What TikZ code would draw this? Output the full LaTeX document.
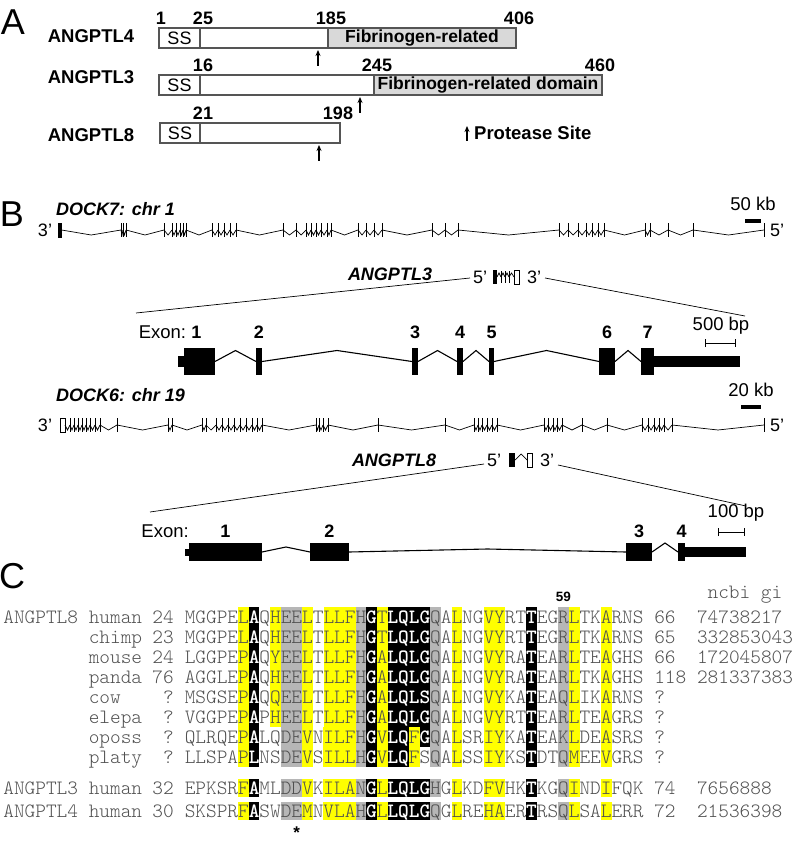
\documentclass[tikz,border=0pt]{standalone}
\usepackage{fontspec}
\setmainfont{Liberation Sans}
\usetikzlibrary{arrows.meta, positioning, calc}

\definecolor{alnyellow}{HTML}{FFFF00}
\definecolor{alngray}{HTML}{B6B6B6}
\definecolor{domgray}{HTML}{D9D9D9}
\definecolor{boxline}{HTML}{555555}
\definecolor{alntext}{HTML}{505050}

% alignment cells
\newlength\chw \setlength\chw{10.67pt}
\newlength\hlht \newlength\hldp
\newcommand\alnfont{\fontfamily{lmtt}\fontseries{l}\fontsize{20.32}{22}\selectfont}
\newcommand\hlc[2]{\makebox[\chw][l]{\rlap{\textcolor{#1}{\rule[-\hldp]{\chw}{\hlht}}}\makebox[\chw][c]{#2}}}
\newcommand\yl[1]{\hlc{alnyellow}{#1}}
\newcommand\gr[1]{\hlc{alngray}{#1}}
\newcommand\bk[1]{\hlc{black}{\textcolor{white}{\bfseries #1}}}

\begin{document}
\begin{tikzpicture}[x=1pt, y=-1pt,
    plbl/.style={font=\fontsize{36}{40}\selectfont, inner sep=0pt},
    gname/.style={font=\fontsize{18.5}{20}\selectfont\bfseries, inner sep=0pt},
    num/.style={font=\fontsize{18}{20}\selectfont\bfseries, inner sep=0pt},
    seg/.style={draw=boxline, line width=1.1pt, minimum height=20pt, inner sep=0pt, outer sep=0pt, font=\fontsize{18}{20}\selectfont},
    dom/.style={seg, fill=domgray, font=\fontsize{17.5}{20}\selectfont\bfseries},
    parrow/.style={line width=1.3pt, -{Stealth[length=6pt, width=5pt]}, shorten >=2pt},
    glbl/.style={font=\fontsize{18}{20}\selectfont\bfseries\itshape, inner sep=0pt},
    sclbl/.style={font=\fontsize{18.5}{20}\selectfont, inner sep=0pt},
    primelbl/.style={font=\fontsize{18}{20}\selectfont, inner sep=0pt},
    sbar/.style={fill, inner sep=0pt, minimum height=4pt},
    scbar/.style={line width=1pt, {Bar[width=8pt]}-{Bar[width=8pt]}},
    dockline/.style={line width=0.7pt},
    extick/.style={line width=0.6pt},
    intron/.style={line width=1.1pt},
    exon/.style={fill, inner sep=0pt, outer sep=0pt, minimum height=27pt},
    exon8/.style={fill, inner sep=0pt, outer sep=0pt, minimum height=18pt},
    utr/.style={fill, inner sep=0pt, outer sep=0pt, minimum height=11pt},
    zline/.style={line width=0.7pt},
    alntxt/.style={font=\alnfont, text=alntext, inner sep=0pt, anchor=base west},
    alnnum/.style={alntxt, anchor=base east}
]
\useasboundingbox (0,0) rectangle (793,842);

% ---------------- A: domain maps
\node[plbl] (pa) at (13,22) {A};

\node[gname] (g4) at (91,36) {ANGPTL4};
\node[seg, anchor=north west, minimum width=41pt] (g4ss) at (159,28) {SS};
\node[seg, minimum width=128pt, right=0pt of g4ss] (g4mid) {};
\node[dom, minimum width=188pt, right=0pt of g4mid] (g4fib) {Fibrinogen-related};
\node[num, above=3pt of g4ss.north west, xshift=2pt] (n4a) {1};
\node[num, above=3pt of g4ss.north east, xshift=3pt] (n4b) {25};
\node[num, above=3pt of g4mid.north east, xshift=3pt] (n4c) {185};
\node[num, above=3pt of g4fib.north east, xshift=3pt] (n4d) {406};

\node[gname] (g3) at (91,77) {ANGPTL3};
\node[seg, anchor=north west, minimum width=41pt] (g3ss) at (159,75) {SS};
\node[seg, minimum width=174pt, right=0pt of g3ss] (g3mid) {};
\node[dom, minimum width=228pt, right=0pt of g3mid] (g3fib) {Fibrinogen-related domain};
\node[num, above=3pt of g3ss.north east, xshift=3pt] (n3a) {16};
\node[num, above=3pt of g3mid.north east, xshift=3pt] (n3b) {245};
\node[num, above=3pt of g3fib.north east, xshift=-2pt] (n3c) {460};

\node[gname] (g8) at (91,135) {ANGPTL8};
\node[seg, anchor=north west, minimum width=40pt] (g8ss) at (160,123) {SS};
\node[seg, minimum width=140pt, right=0pt of g8ss] (g8mid) {};
\node[num, above=3pt of g8ss.north east, xshift=3pt] (n8a) {21};
\node[num, above=3pt of g8mid.north east, xshift=-2pt] (n8b) {198};

% protease sites
\coordinate (pr4) at (318,66);
\coordinate (pr3) at (360,113);
\coordinate (pr8) at (319,161);
\draw[parrow] (pr4) -- (pr4 |- g4mid.south);
\draw[parrow] (pr3) -- (pr3 |- g3mid.south);
\draw[parrow] (pr8) -- (pr8 |- g8mid.south);
\node[gname, anchor=west] (ptxt) at (474,133) {Protease Site};
\coordinate (prl) at (467,141);
\draw[parrow, shorten >=0pt] (prl) -- (prl |- ptxt.north);

% ---------------- B: gene structures
\node[plbl] (pb) at (12,214) {B};

% DOCK7
\node[glbl, anchor=west] (d7) at (56,209) {DOCK7: chr 1};
\node[sclbl] (s50) at (753,204) {50 kb};
\node[sbar, minimum width=16pt, below=7.5pt of s50] (b50) {};
\node[primelbl] (d7l) at (45,230) {3’};
\node[primelbl] (d7r) at (777,230) {5’};
\draw[dockline, fill] (58,223) rectangle (61.5,237);
\foreach \x [remember=\x as \px (initially 61.5)] in
    {121,123,126,164,172,176,180,183,186,212,218,224,230,236,283,296,306,311,316,321,327,331,
     358,366,374,382,432,445,458,559,568,578,586,592,598,604,645,650,668,693,764} {
  \draw[dockline] (\px,230) -- ({(\px+\x)/2},235) -- (\x,230);
  \draw[extick] (\x,223) -- (\x,237);
}

% ANGPTL3 inside DOCK7
\node[glbl] (m3) at (390,274) {ANGPTL3};
\node[primelbl] (m3l) at (480,277) {5’};
\node[primelbl] (m3r) at (534,277) {3’};
\fill (493,270) rectangle (497,284);
\foreach \x [remember=\x as \px (initially 497)] in {501,505,509,514} {
  \draw[dockline] (\px,277) -- ({(\px+\x)/2},273) -- (\x,277);
  \draw[extick] (\x,271) -- (\x,283);
}
\draw[dockline] (514,270) rectangle (519,284);
\coordinate (z3a) at (470,278);
\coordinate (z3b) at (545,278);
\coordinate (z3c) at (136,313);
\coordinate (z3d) at (745,316);
\draw[zline] (z3a) -- (z3c);
\draw[zline] (z3b) -- (z3d);

% ANGPTL3 exons
\node[exon, minimum width=31pt] (a1) at (199.5,361.5) {};
\node[exon, minimum width=6pt] (a2) at (259,361.5) {};
\node[exon, minimum width=6pt] (a3) at (415,361.5) {};
\node[exon, minimum width=6pt] (a4) at (460,361.5) {};
\node[exon, minimum width=5pt] (a5) at (491.5,361.5) {};
\node[exon, minimum width=16pt] (a6) at (607,361.5) {};
\node[exon, minimum width=13pt] (a7) at (647.5,361.5) {};
\node[utr, minimum width=6pt, left=0pt of a1] (a0) {};
\node[utr, minimum width=86pt, right=0pt of a7] (a8) {};
\foreach \p/\q in {a1/a2,a2/a3,a3/a4,a4/a5,a5/a6,a6/a7}
  \draw[intron] (\p.east) -- ($(\p.east)!.5!(\q.west)+(0,-11)$) -- (\q.west);
\node[num, above=9pt of a1, xshift=-3pt] (t1) {1};
\node[num, above=9pt of a2] (t2) {2};
\node[num, above=9pt of a3] (t3) {3};
\node[num, above=9pt of a4] (t4) {4};
\node[num, above=9pt of a5] (t5) {5};
\node[num, above=9pt of a6] (t6) {6};
\node[num, above=9pt of a7] (t7) {7};
\node[sclbl, left=5pt of t1] (ex3) {Exon:};
\node[sclbl] (s500) at (721,326) {500 bp};
\coordinate (b5a) at (705,343);
\coordinate (b5b) at (736,343);
\draw[scbar] (b5a) -- (b5b);

% DOCK6
\node[glbl, anchor=west] (d6) at (56,395) {DOCK6: chr 19};
\node[sclbl] (s20) at (751,390) {20 kb};
\node[sbar, minimum width=20pt, below=7.5pt of s20] (b20) {};
\node[primelbl] (d6l) at (45,425) {3’};
\node[primelbl] (d6r) at (777,425) {5’};
\draw[dockline] (60,418) rectangle (65,432);
\foreach \x [remember=\x as \px (initially 65)] in
    {70,74,78,82,86,90,95,100,117,168,172,202,206,216,222,228,234,240,246,252,257,262,
     316,319,323,328,378,445,474,478,482,487,492,497,544,548,553,557,562,582,607,
     642,648,654,659,664,672,764} {
  \draw[dockline] (\px,425) -- ({(\px+\x)/2},430) -- (\x,425);
  \draw[extick] (\x,418) -- (\x,432);
}

% ANGPTL8 inside DOCK6
\node[glbl] (m8) at (394,460) {ANGPTL8};
\node[primelbl] (m8l) at (494,460) {5’};
\node[primelbl] (m8r) at (547,460) {3’};
\fill (509,453) rectangle (515,467);
\draw[dockline] (515,460) -- (521,454) -- (527,460);
\draw[dockline] (527,453) rectangle (532,467);
\coordinate (z8a) at (484,464);
\coordinate (z8b) at (558,465);
\coordinate (z8c) at (150,512);
\coordinate (z8d) at (746,506);
\draw[zline] (z8a) -- (z8c);
\draw[zline] (z8b) -- (z8d);

% ANGPTL8 exons
\node[exon8, minimum width=73pt] (c1) at (225.5,552) {};
\node[exon8, minimum width=39pt] (c2) at (329.5,552) {};
\node[exon8, minimum width=26pt] (c3) at (639,552) {};
\node[exon8, minimum width=7pt] (c4) at (681.5,552) {};
\node[utr, minimum height=7pt, minimum width=4pt, left=0pt of c1] (c0) {};
\node[utr, minimum height=10pt, minimum width=61pt, right=0pt of c4] (c5) {};
\draw[intron] (c1.east) -- ($(c1.east)!.5!(c2.west)+(0,-5)$) -- (c2.west);
\draw[intron] (c2.east) -- ($(c2.east)!.5!(c3.west)+(0,-3)$) -- (c3.west);
\draw[intron] (c3.east) -- ($(c3.east)!.5!(c4.west)+(0,-9)$) -- (c4.west);
\node[num, above=5.5pt of c1] (u1) {1};
\node[num, above=5.5pt of c2] (u2) {2};
\node[num, above=5.5pt of c3] (u3) {3};
\node[num, above=5.5pt of c4] (u4) {4};
\node[sclbl, anchor=east] (ex8) at (189,531) {Exon:};
\node[sclbl] (s100) at (736,513) {100 bp};
\coordinate (b1a) at (718,532);
\coordinate (b1b) at (745,532);
\draw[scbar] (b1a) -- (b1b);

% ---------------- C: alignment
\node[plbl] (pc) at (12,576) {C};
\node[font=\fontsize{13.5}{14}\selectfont\bfseries, inner sep=0pt] (r59) at (563.4,597) {59};
\node[alntxt] (ncbi) at (707.4,598) {ncbi gi};

\setlength\hlht{20pt}\setlength\hldp{3.8pt}
\node[alntxt] (p8) at (3.2,623.2) {ANGPTL8};
\foreach \spc/\stn/\sqn/\enn/\gin [count=\rw from 0] in {
  human/24/{MGGPE\yl{L}\bk{A}Q\yl{H}\gr{E}\gr{E}\yl{L}T\yl{L}\yl{L}\yl{F}\gr{H}\bk{G}\yl{T}\bk{L}\bk{Q}\bk{L}\bk{G}\gr{Q}A\yl{L}NG\yl{V}\yl{Y}RT\bk{T}EG\gr{R}\yl{L}TK\yl{A}RNS}/66/74738217,
  chimp/23/{MGGPE\yl{L}\bk{A}Q\yl{H}\gr{E}\gr{E}\yl{L}T\yl{L}\yl{L}\yl{F}\gr{H}\bk{G}\yl{T}\bk{L}\bk{Q}\bk{L}\bk{G}\gr{Q}A\yl{L}NG\yl{V}\yl{Y}RT\bk{T}EG\gr{R}\yl{L}TK\yl{A}RNS}/65/332853043,
  mouse/24/{LGGPE\yl{P}\bk{A}Q\yl{Y}\gr{E}\gr{E}\yl{L}T\yl{L}\yl{L}\yl{F}\gr{H}\bk{G}\yl{A}\bk{L}\bk{Q}\bk{L}\bk{G}\gr{Q}A\yl{L}NG\yl{V}\yl{Y}RA\bk{T}EA\gr{R}\yl{L}TE\yl{A}GHS}/66/172045807,
  panda/76/{AGGLE\yl{P}\bk{A}Q\yl{H}\gr{E}\gr{E}\yl{L}T\yl{L}\yl{L}\yl{F}\gr{H}\bk{G}\yl{A}\bk{L}\bk{Q}\bk{L}\bk{G}\gr{Q}A\yl{L}NG\yl{V}\yl{Y}RA\bk{T}EA\gr{R}\yl{L}TK\yl{A}GHS}/118/281337383,
  cow/?/{MSGSE\yl{P}\bk{A}Q\yl{Q}\gr{E}\gr{E}\yl{L}T\yl{L}\yl{L}\yl{F}\gr{H}\bk{G}\yl{A}\bk{L}\bk{Q}\bk{L}\bk{S}\gr{Q}A\yl{L}NG\yl{V}\yl{Y}KA\bk{T}EA\gr{Q}\yl{L}IK\yl{A}RNS}/?/{},
  elepa/?/{VGGPE\yl{P}\bk{A}P\yl{H}\gr{E}\gr{E}\yl{L}T\yl{L}\yl{L}\yl{F}\gr{H}\bk{G}\yl{A}\bk{L}\bk{Q}\bk{L}\bk{G}\gr{Q}A\yl{L}NG\yl{V}\yl{Y}RT\bk{T}EA\gr{R}\yl{L}TE\yl{A}GRS}/?/{},
  oposs/?/{QLRQE\yl{P}\bk{A}LQ\gr{D}\gr{E}\yl{V}N\yl{I}\yl{L}\yl{F}\gr{H}\bk{G}\yl{V}\bk{L}\bk{Q}\yl{F}\bk{G}\gr{Q}A\yl{L}SR\yl{I}\yl{Y}KA\bk{T}EA\gr{K}\yl{L}DE\yl{A}SRS}/?/{},
  platy/?/{LLSPA\yl{P}\bk{L}NS\gr{D}\gr{E}\yl{V}S\yl{I}\yl{L}\yl{L}\gr{H}\bk{G}\yl{V}\bk{L}\bk{Q}\yl{F}S\gr{Q}A\yl{L}SS\yl{I}\yl{Y}KS\bk{T}DT\gr{Q}\yl{M}EE\yl{V}GRS}/?/{}} {
  \pgfmathsetmacro\yb{623.2+20*\rw}
  \node[alntxt] (sp\rw) at (88.6,\yb) {\spc};
  \node[alnnum] (st\rw) at (173.9,\yb) {\stn};
  \node[alntxt] (sq\rw) at (184.6,\yb) {\sqn};
  \node[alntxt] (en\rw) at (654.1,\yb) {\enn};
  \node[alntxt] (gi\rw) at (696.8,\yb) {\gin};
}

\setlength\hlht{18pt}\setlength\hldp{2.8pt}
\node[alntxt] (p3) at (3.2,794.2) {ANGPTL3};
\node[alntxt] (p3s) at (88.6,794.2) {human};
\node[alnnum] (p3a) at (173.9,794.2) {32};
\node[alntxt] (p3q) at (184.6,794.2) {EPKSR\yl{F}\bk{A}ML\gr{D}\gr{D}\yl{V}K\yl{I}\yl{L}\yl{A}\gr{N}\bk{G}\yl{L}\bk{L}\bk{Q}\bk{L}\bk{G}\gr{H}G\yl{L}KD\yl{F}\yl{V}HK\bk{T}KG\gr{Q}\yl{I}ND\yl{I}FQK};
\node[alntxt] (p3b) at (654.1,794.2) {74};
\node[alntxt] (p3g) at (696.8,794.2) {7656888};

\node[alntxt] (p4) at (3.2,817.2) {ANGPTL4};
\node[alntxt] (p4s) at (88.6,817.2) {human};
\node[alnnum] (p4a) at (173.9,817.2) {30};
\node[alntxt] (p4q) at (184.6,817.2) {SKSPR\yl{F}\bk{A}SW\gr{D}\gr{E}\yl{M}N\yl{V}\yl{L}\yl{A}\gr{H}\bk{G}\yl{L}\bk{L}\bk{Q}\bk{L}\bk{G}\gr{Q}G\yl{L}RE\yl{H}\yl{A}ER\bk{T}RS\gr{Q}\yl{L}SA\yl{L}ERR};
\node[alntxt] (p4b) at (654.1,817.2) {72};
\node[alntxt] (p4g) at (696.8,817.2) {21536398};

\node[font=\fontsize{17}{17}\selectfont\bfseries, inner sep=0pt, anchor=base] (ast) at (296.6,838) {*};

\end{tikzpicture}
\end{document}
